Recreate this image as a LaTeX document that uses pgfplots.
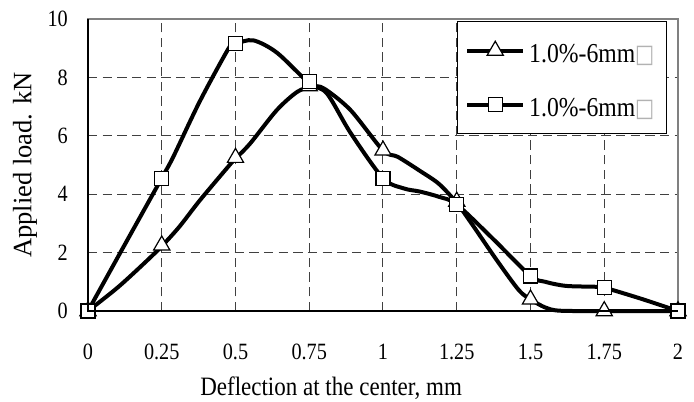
\documentclass[border=0pt]{standalone}
\usepackage{fontspec}
\setmainfont{Liberation Serif}[FakeStretch=0.867]
\newfontfamily\yfont{Liberation Serif}
\newfontfamily\symfont{DejaVu Sans}[FakeStretch=0.8]
\usepackage{pgfplots}
\pgfplotsset{compat=1.18}
\pgfplotstableread{
x y
0 0
0.1 0.8
0.19 1.63
0.25 2.22
0.31 2.89
0.38 3.8
0.48 5.0
0.5 5.22
0.55 5.74
0.64 6.88
0.71 7.51
0.76 7.68
0.8 7.62
0.89 6.88
1.0 5.5
1.05 5.28
1.125 4.8
1.19 4.35
1.25 3.7
1.3 3.0
1.385 1.75
1.46 0.72
1.5 0.4
1.55 0.12
1.6 0.01
1.75 0
2 0
}\triline
\pgfplotstableread{
x y
0 0
0.25 2.25
0.5 5.25
0.75 7.7
1 5.5
1.25 3.75
1.5 0.4
1.75 0
2 0
}\trimarks
\pgfplotstableread{
x y
0 0
0.125 2.28
0.25 4.55
0.29 5.3
0.38 7.2
0.48 9.05
0.5 9.15
0.56 9.27
0.64 8.85
0.75 7.8
0.81 7.45
0.89 6.1
1.0 4.55
1.07 4.2
1.125 4.09
1.19 3.91
1.25 3.65
1.375 2.45
1.5 1.2
1.55 1.0
1.62 0.86
1.72 0.83
1.75 0.8
1.875 0.42
2 0
}\sqline
\pgfplotstableread{
x y
0 0
0.25 4.55
0.5 9.15
0.75 7.85
1 4.55
1.25 3.65
1.5 1.2
1.75 0.8
2 0
}\sqmarks
\begin{document}
\begin{tikzpicture}
\begin{axis}[
  at={(0,0)}, anchor=south west,
  scale only axis, width=442.5pt, height=219pt,
  xmin=0, xmax=2, ymin=0, ymax=10,
  xtick={0,0.25,0.5,0.75,1,1.25,1.5,1.75,2},
  xticklabels={0,0.25,0.5,0.75,1,1.25,1.5,1.75,2},
  ytick={0,2,4,6,8,10},
  yticklabels={0,2,4,6,8,10},
  major tick length=0pt,
  grid=major,
  major grid style={draw=black!75, line width=0.75pt, dash pattern=on 7pt off 4pt},
  axis line style={draw=black!50, line width=1pt},
  clip=false,
  tick label style={font=\fontsize{17.5}{20}\selectfont},
  xticklabel style={anchor=center, yshift=-30.5pt},
  yticklabel style={anchor=east, inner sep=0pt, xshift=-15pt},
  xlabel={Deflection at the center, mm},
  every axis x label/.style={at={([yshift=-57.75pt]axis description cs:0.412,0)}, anchor=center, font=\fontsize{19.9}{22}\selectfont},
  ylabel={\yfont Applied load. kN},
  every axis y label/.style={at={([xshift=-47.25pt]axis description cs:0,0.5)}, anchor=center, rotate=90, font=\fontsize{19.9}{22}\selectfont},
  legend style={at={(axis description cs:0.625,0.994)}, anchor=north west,
    draw=black, line width=0.75pt, fill=white,
    inner xsep=6pt, inner ysep=12.75pt, row sep=22pt,
    font=\fontsize{20.5}{23}\selectfont,
    nodes={inner xsep=3pt, inner ysep=0pt, text height=18.5pt, text depth=0pt}},
  legend cell align=left,
  legend image code/.code={\draw[#1] plot coordinates {(0pt,0pt) (21pt,0pt) (42pt,0pt)};},
  after end axis/.code={\draw[black, line width=1.1pt] (rel axis cs:0,1) -- (rel axis cs:0,0) -- (rel axis cs:1,0);},
]
\addplot[black, line width=3pt, smooth, tension=0.5, forget plot] table[x=x,y=y] {\triline};
\addplot[only marks, mark=triangle*, mark size=7pt, mark options={draw=black, fill=white, line width=0.9pt}, forget plot] table[x=x,y=y] {\trimarks};
\addplot[black, line width=3pt, smooth, tension=0.5, forget plot] table[x=x,y=y] {\sqline};
\addplot[only marks, mark=square*, mark size=5.25pt, mark options={draw=black, fill=white, line width=0.9pt}, forget plot] table[x=x,y=y] {\sqmarks};
\addlegendimage{black, line width=3pt, mark=triangle*, mark size=7pt, mark repeat=2, mark phase=2, mark options={draw=black, fill=white, line width=0.9pt}}
\addlegendentry{1.0\%-6mm{\color{black!30}\symfont\fontsize{19}{20}\selectfont □}}
\addlegendimage{black, line width=3pt, mark=square*, mark size=5.25pt, mark repeat=2, mark phase=2, mark options={draw=black, fill=white, line width=0.9pt}}
\addlegendentry{1.0\%-6mm{\color{black!30}\symfont\fontsize{19}{20}\selectfont □}}
\end{axis}
\pgfresetboundingbox
\path[use as bounding box] (-66pt,-67.5pt) rectangle (454.5pt,233.25pt);
\end{tikzpicture}
\end{document}
